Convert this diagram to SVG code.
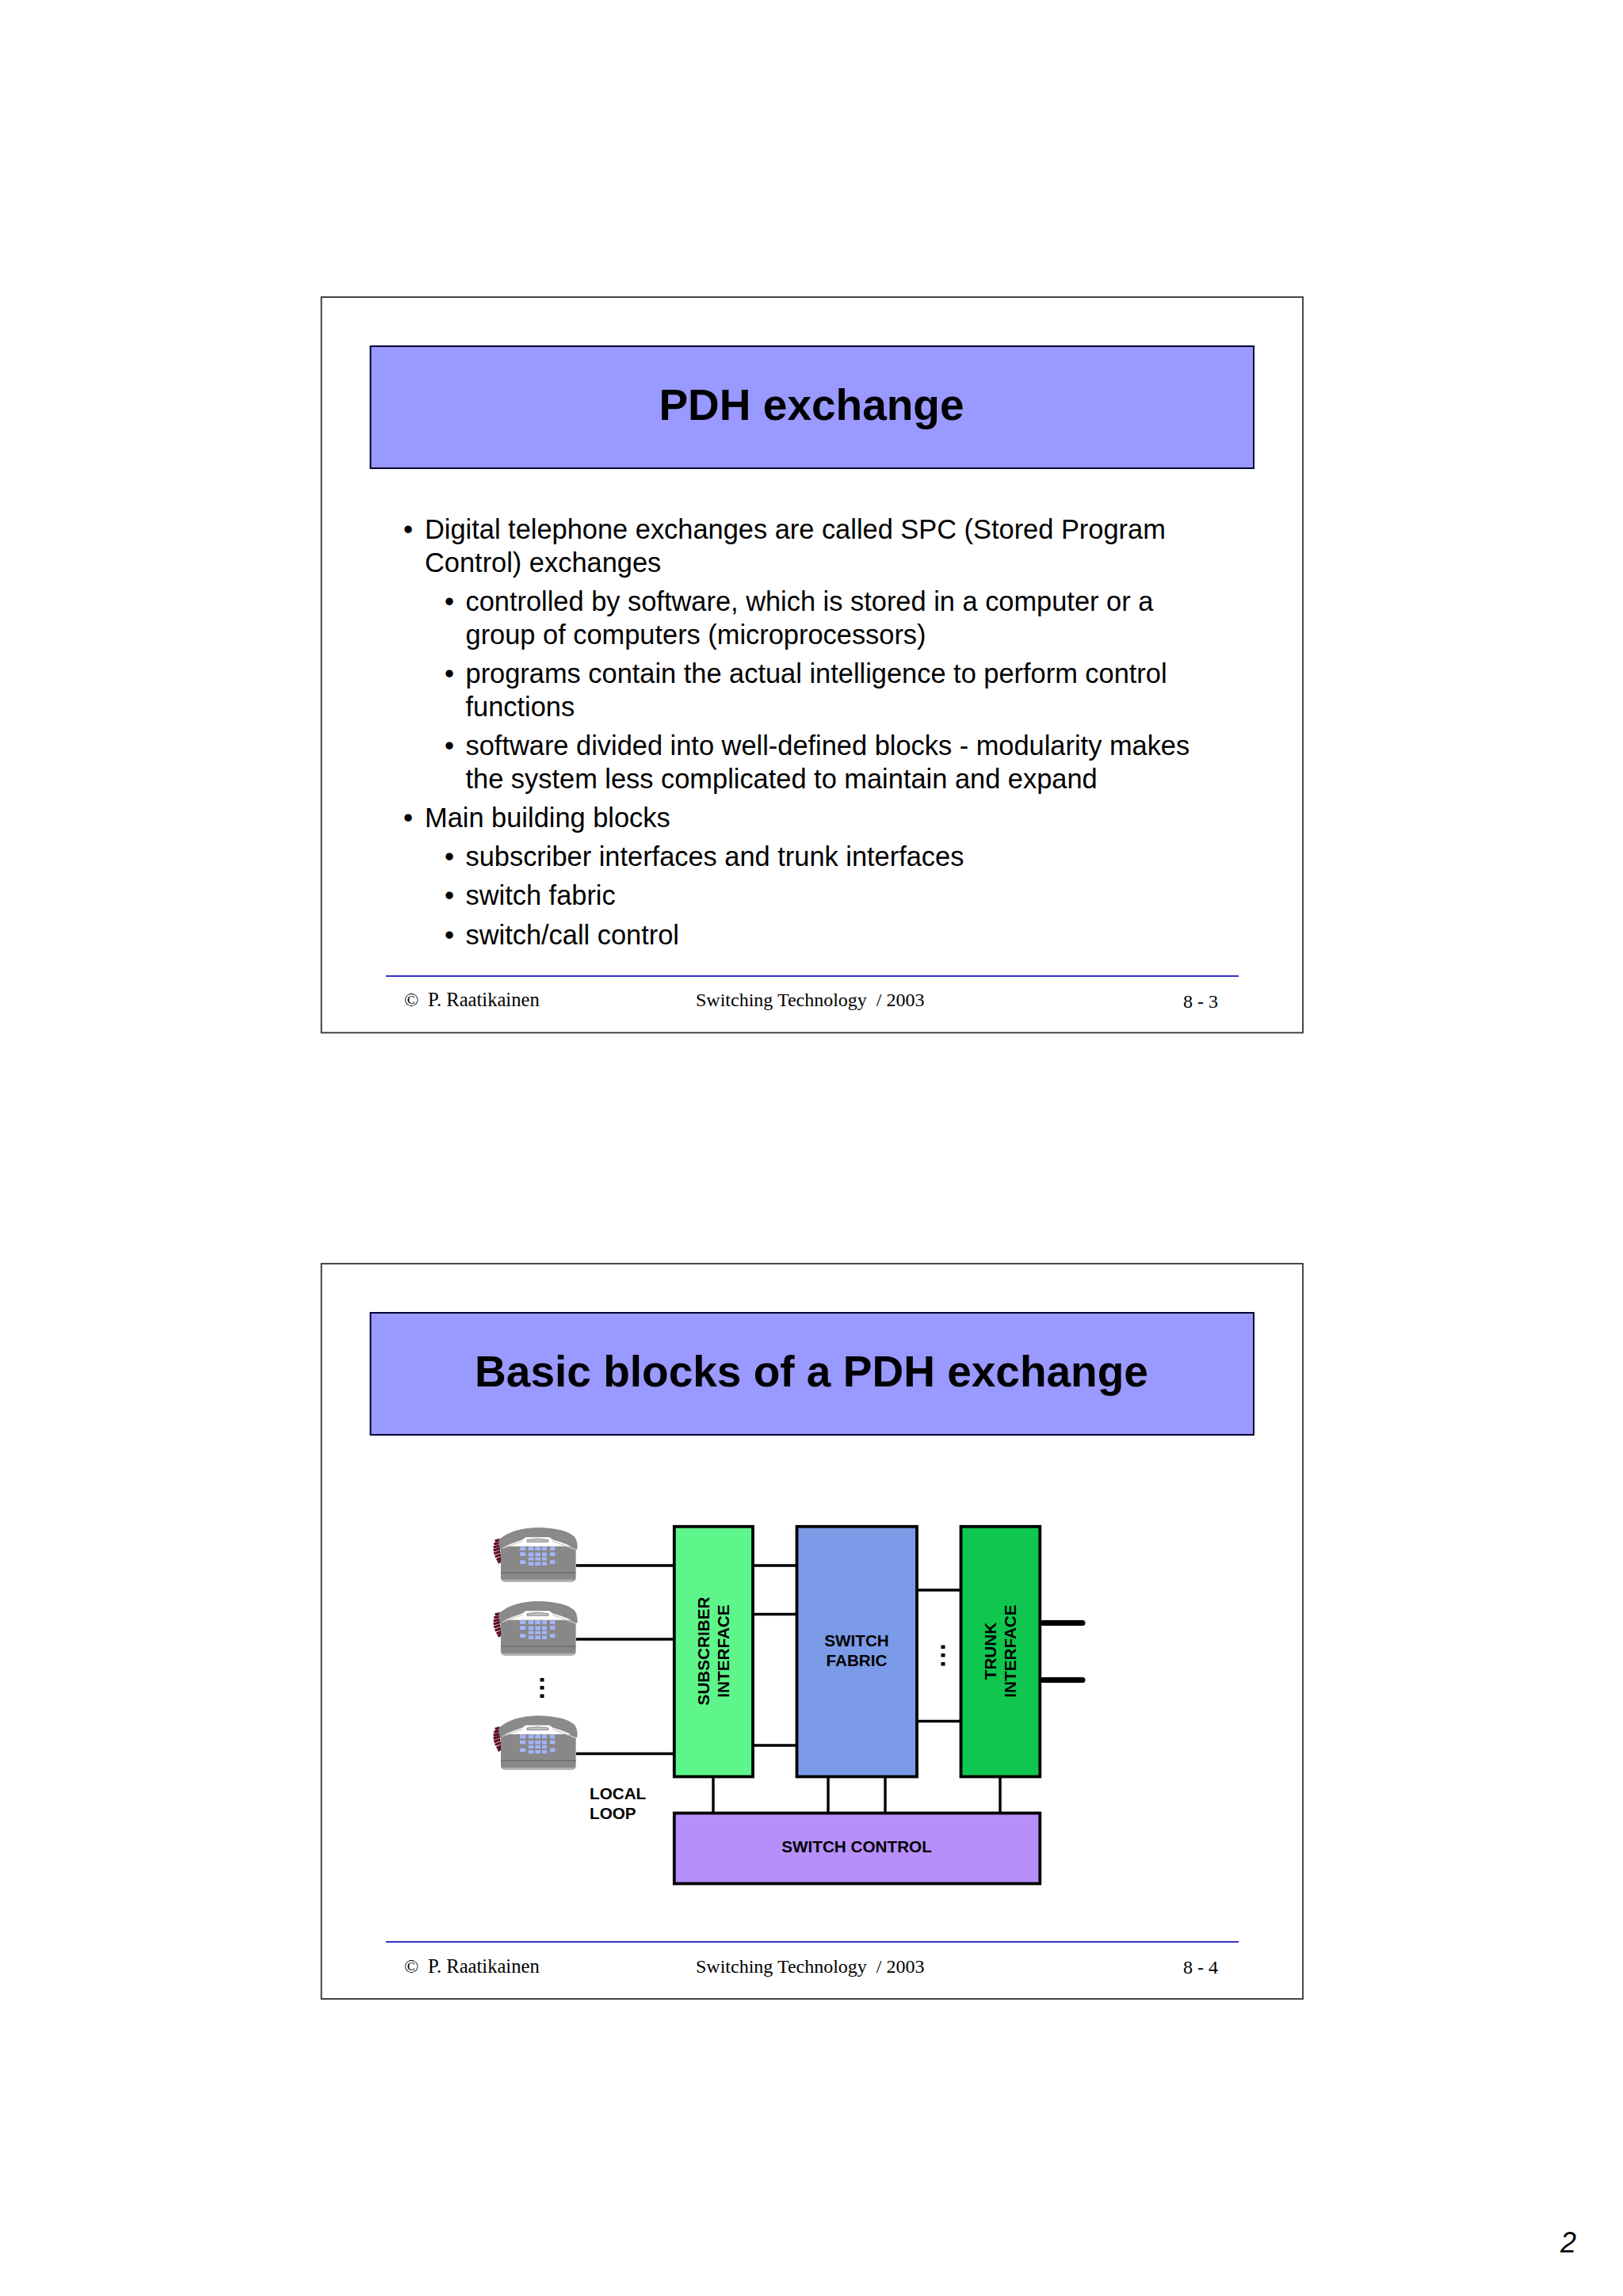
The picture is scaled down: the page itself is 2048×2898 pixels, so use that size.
<svg xmlns="http://www.w3.org/2000/svg" width="2048" height="2898" viewBox="0 0 2048 2898">
<style>
.frame{fill:#fff;stroke:#333;stroke-width:1.8}
.title{fill:#9999ff;stroke:#000033;stroke-width:2}
.tt{font:bold 55px "Liberation Sans",Arial,sans-serif;fill:#000;text-anchor:middle}
.b{font:34.4px "Liberation Sans",Arial,sans-serif;fill:#000}
.f{font:24px "Liberation Serif","Times New Roman",serif;fill:#000}
.n{font:24.6px "Liberation Serif","Times New Roman",serif;fill:#000}
.rule{stroke:#3333cc;stroke-width:2.2;fill:none}
.box{stroke:#000;stroke-width:3.8}
.l{font:bold 20.7px "Liberation Sans",Arial,sans-serif;fill:#000;text-anchor:middle}
.ll{font:bold 20.7px "Liberation Sans",Arial,sans-serif;fill:#000}
.w{stroke:#000;stroke-width:3.4;fill:none}
.tr{stroke:#000;stroke-width:7;fill:none;stroke-linecap:round}
</style>
<defs>
<g id="phone">
<g transform="translate(610 1915) scale(.3333)">
<path d="M44 90L62 86M40 102L62 97M38 114L62 108M38 126L64 118M40 138L64 130M44 150L66 142M50 162L68 154M55 172L68 164" stroke="#5f0f20" stroke-width="10" fill="none"/>
<path d="M66 110H350V228Q350 244 334 244H82Q66 244 66 228Z" fill="#888"/>
<path d="M66 210H350" stroke="#5f5f5f" stroke-width="3"/>
<path d="M70 236H346L338 245H78Z" fill="#b0b0b0"/>
<path d="M60 85Q110 42 205 40Q310 42 345 75Q358 95 354 122Q320 100 262 84L250 75H160L148 84Q100 100 62 118Q56 100 60 85Z" fill="#8a8a8a" stroke="#777" stroke-width="1.5"/>
<path d="M70 118L148 91M262 91L350 123" stroke="#cfcfcf" stroke-width="4" fill="none"/>
<path d="M165 86Q205 78 246 86V94H165Z" fill="#c0c0c0" stroke="#666" stroke-width="2"/>
<g fill="#a3b4fb">
<rect x="138" y="112" width="22" height="14"/><rect x="170" y="112" width="20" height="14"/><rect x="196" y="112" width="20" height="14"/><rect x="222" y="112" width="18" height="14"/><rect x="252" y="112" width="19" height="14"/>
<rect x="138" y="133" width="22" height="14"/><rect x="170" y="134" width="20" height="14"/><rect x="196" y="134" width="20" height="14"/><rect x="222" y="134" width="18" height="14"/><rect x="252" y="133" width="19" height="14"/>
<rect x="170" y="152" width="20" height="12"/><rect x="196" y="152" width="20" height="12"/><rect x="222" y="152" width="18" height="12"/>
<rect x="138" y="163" width="22" height="14"/><rect x="170" y="170" width="20" height="13"/><rect x="196" y="170" width="20" height="13"/><rect x="222" y="170" width="18" height="13"/><rect x="252" y="163" width="19" height="14"/>
</g>
</g>
</g>
</defs>
<rect width="2048" height="2898" fill="#fff"/>

<g id="slide1">
<rect class="frame" x="405.500" y="375" width="1238.500" height="928.500"/>
<g id="title1"><rect class="title" x="467.500" y="437" width="1114.500" height="154"/>
<text class="tt" x="1024" y="530">PDH exchange</text></g>
<g id="body1">
<text class="b" x="509" y="680">•</text><text class="b" x="536" y="680">Digital telephone exchanges are called SPC (Stored Program</text>
<text class="b" x="536" y="722">Control) exchanges</text>
<text class="b" x="561" y="771">•</text><text class="b" x="587.500" y="771">controlled by software, which is stored in a computer or a</text>
<text class="b" x="587.500" y="813">group of computers (microprocessors)</text>
<text class="b" x="561" y="862">•</text><text class="b" x="587.500" y="862">programs contain the actual intelligence to perform control</text>
<text class="b" x="587.500" y="904">functions</text>
<text class="b" x="561" y="953">•</text><text class="b" x="587.500" y="953">software divided into well-defined blocks - modularity makes</text>
<text class="b" x="587.500" y="995">the system less complicated to maintain and expand</text>
<text class="b" x="509" y="1044">•</text><text class="b" x="536" y="1044">Main building blocks</text>
<text class="b" x="561" y="1093">•</text><text class="b" x="587.500" y="1093">subscriber interfaces and trunk interfaces</text>
<text class="b" x="561" y="1142">•</text><text class="b" x="587.500" y="1142">switch fabric</text>
<text class="b" x="561" y="1192">•</text><text class="b" x="587.500" y="1192">switch/call control</text>
</g>
<g id="footer1">
<path class="rule" d="M487 1232H1563"/>
<text class="f" x="510" y="1270">©</text><text class="n" x="540" y="1270">P. Raatikainen</text>
<text class="f" x="878" y="1270" xml:space="preserve">Switching Technology  / 2003</text>
<text class="f" x="1493" y="1272">8 - 3</text>
</g>
</g>

<g id="slide2">
<rect class="frame" x="405.500" y="1595" width="1238.500" height="928"/>
<g id="title2"><rect class="title" x="467.500" y="1657" width="1114.500" height="154"/>
<text class="tt" x="1024" y="1750">Basic blocks of a PDH exchange</text></g>
<g id="connectors">
<path class="w" d="M727 1976H850M727 2069H850M727 2213.500H850M951 1976H1005M951 2037.500H1005M951 2203H1005M1158 2007H1212M1158 2172.500H1212M900 2243V2288M1045 2243V2288M1117 2243V2288M1262 2243V2288"/>
<path class="tr" d="M1316 2048.500H1366M1316 2120.500H1366"/>
</g>
<g id="phone1"><use href="#phone"/></g>
<g id="phone2"><use href="#phone" y="93"/></g>
<g id="phone3"><use href="#phone" y="237.300"/></g>
<g id="dots-phones" fill="#000"><rect x="681.500" y="2118" width="5" height="4.500"/><rect x="681.500" y="2128" width="5" height="4.500"/><rect x="681.500" y="2138.500" width="5" height="4.500"/></g>
<g id="local-loop"><text class="ll" x="744" y="2271">LOCAL</text><text class="ll" x="744" y="2295.500">LOOP</text></g>
<g id="subscriber-interface"><rect class="box" x="850.800" y="1926.800" width="99.200" height="315.700" fill="#5ef58b"/>
<text class="l" transform="translate(895 2084) rotate(-90)">SUBSCRIBER</text>
<text class="l" transform="translate(920 2084) rotate(-90)">INTERFACE</text></g>
<g id="switch-fabric"><rect class="box" x="1005.500" y="1926.800" width="151.500" height="315.700" fill="#7b9ae8"/>
<text class="l" x="1081" y="2078">SWITCH</text><text class="l" x="1081" y="2103">FABRIC</text></g>
<g id="dots-fabric" fill="#000"><rect x="1187.500" y="2076.500" width="5" height="4.500"/><rect x="1187.500" y="2087" width="5" height="4.500"/><rect x="1187.500" y="2098" width="5" height="4.500"/></g>
<g id="trunk-interface"><rect class="box" x="1212.500" y="1926.800" width="99.800" height="315.700" fill="#0fc74f"/>
<text class="l" transform="translate(1256.500 2084) rotate(-90)">TRUNK</text>
<text class="l" transform="translate(1281.500 2084) rotate(-90)">INTERFACE</text></g>
<g id="switch-control"><rect class="box" x="850.800" y="2288.500" width="461.500" height="89" fill="#b68ffb"/>
<text class="l" x="1081" y="2337.500">SWITCH CONTROL</text></g>
<g id="footer2">
<path class="rule" d="M487 2451H1563"/>
<text class="f" x="510" y="2490">©</text><text class="n" x="540" y="2490">P. Raatikainen</text>
<text class="f" x="878" y="2490" xml:space="preserve">Switching Technology  / 2003</text>
<text class="f" x="1493" y="2491">8 - 4</text>
</g>
</g>
<text id="page-number" x="1969" y="2843" style="font:italic 36px 'Liberation Sans',Arial,sans-serif">2</text>
</svg>
